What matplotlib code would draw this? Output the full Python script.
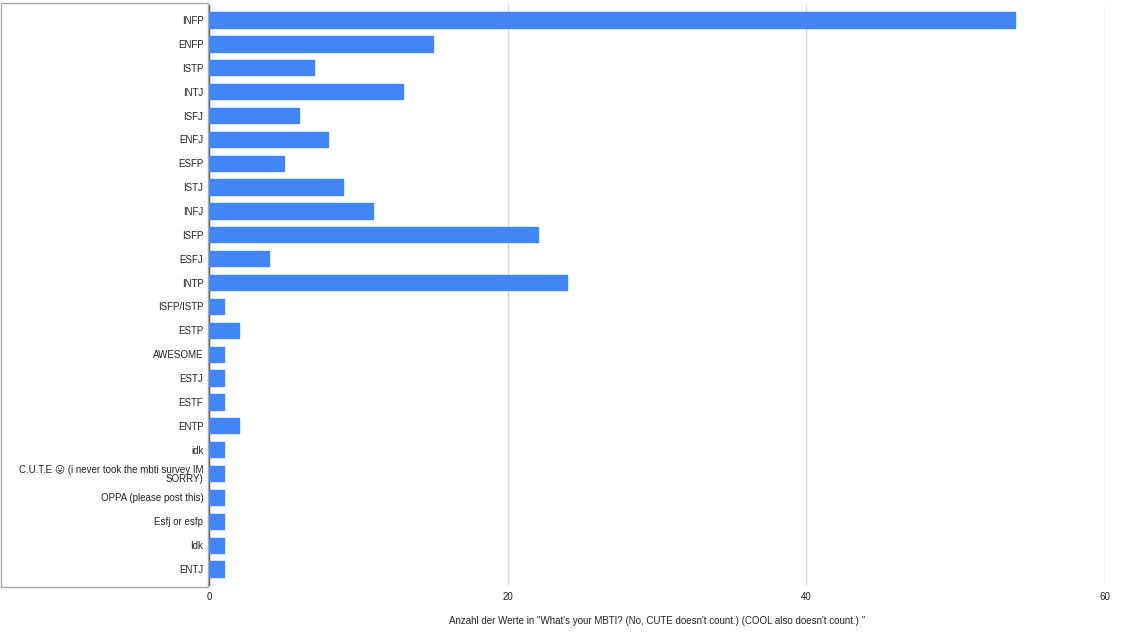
import matplotlib
matplotlib.use('Agg')
import matplotlib.pyplot as plt
from matplotlib.patches import Rectangle

plt.rcParams['font.family'] = ['Liberation Sans', 'DejaVu Sans']

types = ['INFP', 'ENFP', 'ISTP', 'INTJ', 'ISFJ', 'ENFJ', 'ESFP', 'ISTJ', 'INFJ', 'ISFP',
         'ESFJ', 'INTP', 'ISFP/ISTP', 'ESTP', 'AWESOME', 'ESTJ', 'ESTF', 'ENTP', 'idk',
         'C.U.T.E \U0001F61B (i never took the mbti survey IM\nSORRY)',
         'OPPA (please post this)', 'Esfj or esfp', 'Idk', 'ENTJ']
counts = [54, 15, 7, 13, 6, 8, 5, 9, 11, 22, 4, 24, 1, 2, 1, 1, 1, 2, 1, 1, 1, 1, 1, 1]
xticks = [0, 20, 40, 60]
xlabel = 'Anzahl der Werte in "What\'s your MBTI? (No, CUTE doesn\'t count.) (COOL also doesn\'t count.) "'

fig = plt.figure(figsize=(11.24, 6.42), dpi=100)
ax = fig.add_axes([209/1124, 1 - 585/642, (1105 - 209)/1124, 580/642])

ypos = list(range(len(types)))
ax.barh(ypos, counts, height=0.64, color='#4285f4', edgecolor='#4285f4',
        linewidth=1, joinstyle='round', zorder=3)

ax.set_xlim(0, 60)
ax.set_ylim(23.67, -0.63)
ax.set_xticks(xticks)
ax.set_xticklabels([str(t) for t in xticks], fontsize=7, color='#222222')
ax.set_yticks(ypos)
ax.set_yticklabels(types, fontsize=7, color='#222222', linespacing=0.9)
ax.tick_params(axis='both', length=0)
ax.tick_params(axis='y', pad=4)
ax.tick_params(axis='x', pad=5)
ax.grid(axis='x', color='#d9d9d9', linewidth=1, zorder=0)
for s in ['top', 'right', 'bottom']:
    ax.spines[s].set_visible(False)
ax.spines['left'].set_color('#555555')
ax.spines['left'].set_linewidth(1)
ax.set_xlabel(xlabel, fontsize=7, color='#222222', labelpad=10)

# grey frame around the label area
fig.patches.append(Rectangle((0.5/1124, 1 - 587/642), 207/1124, 584/642,
                             transform=fig.transFigure, fill=False,
                             edgecolor='#aaaaaa', linewidth=1))

fig.savefig('out.png', dpi=100)
